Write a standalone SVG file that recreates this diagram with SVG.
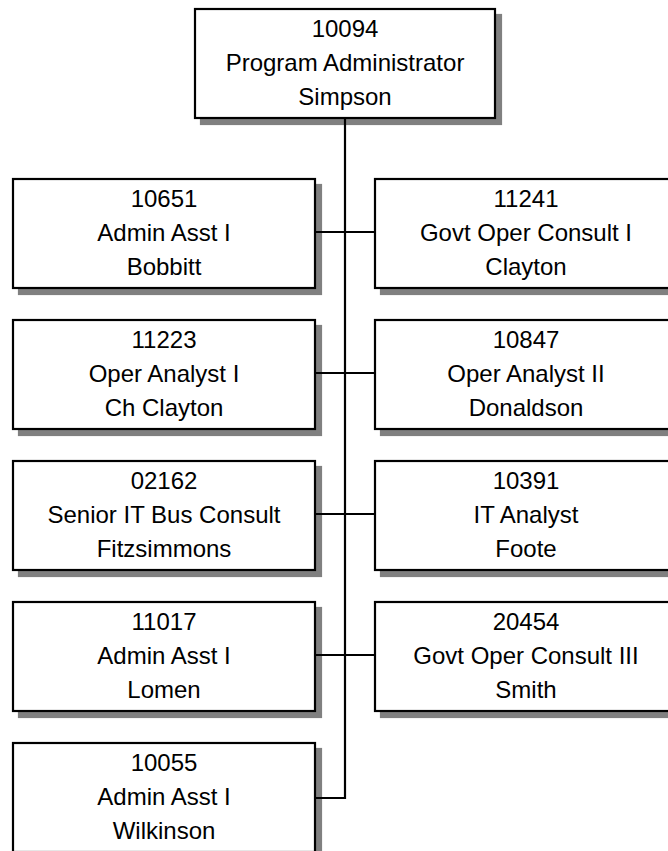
<svg xmlns="http://www.w3.org/2000/svg" width="668" height="851" viewBox="0 0 668 851">
<style>
.box{fill:#fff;stroke:#000;stroke-width:2.2}
.sh{fill:#808080;stroke:#808080;stroke-width:2.2}
.t{font-family:"Liberation Sans",Arial,sans-serif;font-size:24px;fill:#000;text-anchor:middle}
.ln{stroke:#000;stroke-width:2.2;fill:none}
</style>
<g id="n10094">
<rect class="sh" x="201" y="15" width="300" height="109"/>
<rect class="box" x="195" y="9" width="300" height="109"/>
<text class="t" x="345" y="37">10094</text>
<text class="t" x="345" y="71">Program Administrator</text>
<text class="t" x="345" y="105">Simpson</text>
</g>
<g id="n10651">
<rect class="sh" x="19" y="185" width="302" height="109"/>
<rect class="box" x="13" y="179" width="302" height="109"/>
<text class="t" x="164" y="207">10651</text>
<text class="t" x="164" y="241">Admin Asst I</text>
<text class="t" x="164" y="275">Bobbitt</text>
</g>
<g id="n11241">
<rect class="sh" x="381" y="185" width="302" height="109"/>
<rect class="box" x="375" y="179" width="302" height="109"/>
<text class="t" x="526" y="207">11241</text>
<text class="t" x="526" y="241">Govt Oper Consult I</text>
<text class="t" x="526" y="275">Clayton</text>
</g>
<g id="n11223">
<rect class="sh" x="19" y="326" width="302" height="109"/>
<rect class="box" x="13" y="320" width="302" height="109"/>
<text class="t" x="164" y="348">11223</text>
<text class="t" x="164" y="382">Oper Analyst I</text>
<text class="t" x="164" y="416">Ch Clayton</text>
</g>
<g id="n10847">
<rect class="sh" x="381" y="326" width="302" height="109"/>
<rect class="box" x="375" y="320" width="302" height="109"/>
<text class="t" x="526" y="348">10847</text>
<text class="t" x="526" y="382">Oper Analyst II</text>
<text class="t" x="526" y="416">Donaldson</text>
</g>
<g id="n02162">
<rect class="sh" x="19" y="467" width="302" height="109"/>
<rect class="box" x="13" y="461" width="302" height="109"/>
<text class="t" x="164" y="489">02162</text>
<text class="t" x="164" y="523">Senior IT Bus Consult</text>
<text class="t" x="164" y="557">Fitzsimmons</text>
</g>
<g id="n10391">
<rect class="sh" x="381" y="467" width="302" height="109"/>
<rect class="box" x="375" y="461" width="302" height="109"/>
<text class="t" x="526" y="489">10391</text>
<text class="t" x="526" y="523">IT Analyst</text>
<text class="t" x="526" y="557">Foote</text>
</g>
<g id="n11017">
<rect class="sh" x="19" y="608" width="302" height="109"/>
<rect class="box" x="13" y="602" width="302" height="109"/>
<text class="t" x="164" y="630">11017</text>
<text class="t" x="164" y="664">Admin Asst I</text>
<text class="t" x="164" y="698">Lomen</text>
</g>
<g id="n20454">
<rect class="sh" x="381" y="608" width="302" height="109"/>
<rect class="box" x="375" y="602" width="302" height="109"/>
<text class="t" x="526" y="630">20454</text>
<text class="t" x="526" y="664">Govt Oper Consult III</text>
<text class="t" x="526" y="698">Smith</text>
</g>
<g id="n10055">
<rect class="sh" x="19" y="749" width="302" height="109"/>
<rect class="box" x="13" y="743" width="302" height="109"/>
<text class="t" x="164" y="771">10055</text>
<text class="t" x="164" y="805">Admin Asst I</text>
<text class="t" x="164" y="839">Wilkinson</text>
</g>
<g id="connectors">
<path class="ln" d="M345 118 V798 H315"/>
<path class="ln" d="M315 232 H375"/>
<path class="ln" d="M315 373 H375"/>
<path class="ln" d="M315 514 H375"/>
<path class="ln" d="M315 655 H375"/>
</g>
</svg>
